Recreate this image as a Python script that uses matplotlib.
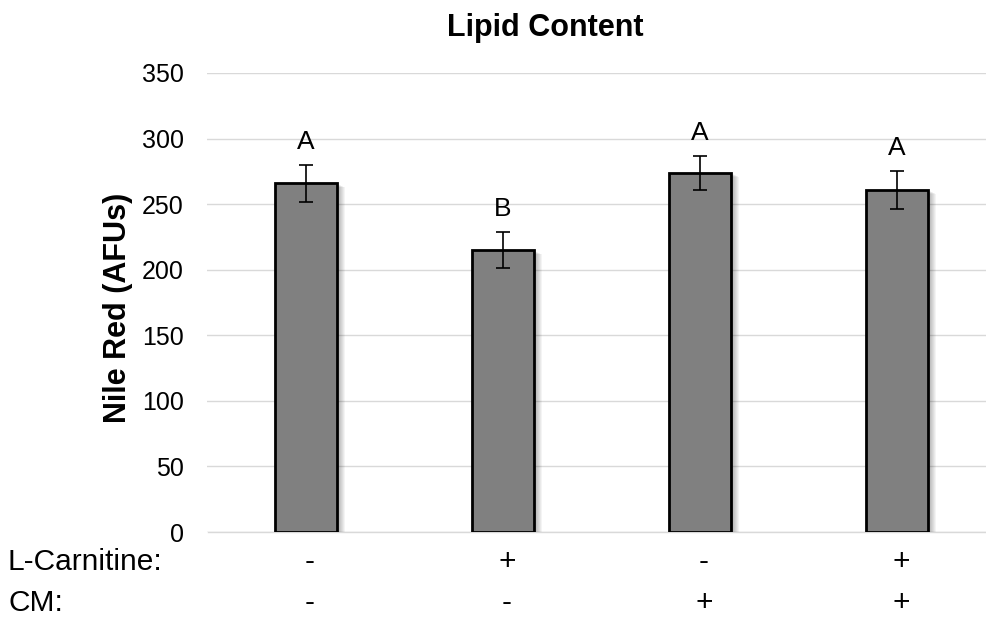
import matplotlib
matplotlib.use("Agg")
import matplotlib.pyplot as plt
import matplotlib.patheffects as pe
from matplotlib.transforms import blended_transform_factory

plt.rcParams['font.family'] = ['Liberation Sans', 'DejaVu Sans']

groups = ["1", "2", "3", "4"]
values = [266, 215, 274, 261]
errors = [14, 14, 13, 14.5]
letters = ["A", "B", "A", "A"]
carnitine = ["-", "+", "-", "+"]
cm = ["-", "-", "+", "+"]
yticks = [0, 50, 100, 150, 200, 250, 300, 350]

W, H = 987, 620
fig = plt.figure(figsize=(W / 100, H / 100), dpi=100)
left, right, bottom, top = 207.5, 987, 88, 547
ax = fig.add_axes([left / W, bottom / H, (right - left) / W, (top - bottom) / H])

x = list(range(len(groups)))
shadow = [pe.SimplePatchShadow(offset=(0.72 * i, -0.36 * i), shadow_rgbFace='black', alpha=0.045)
          for i in range(1, 9)]
bars = ax.bar(x, values, width=0.315, color='#808080', edgecolor='black', linewidth=2, zorder=3)
for b in bars:
    b.set_path_effects(shadow + [pe.Normal()])
ax.errorbar(x, values, yerr=errors, fmt='none', ecolor='black', elinewidth=1.2,
            capsize=5, capthick=1.2, zorder=4)

for xi, v, e, l in zip(x, values, errors, letters):
    ax.annotate(l, (xi, v + e), xytext=(0, 8), textcoords='offset points',
                ha='center', va='bottom', fontsize=19)

ax.set_xlim(-0.5, (right - left) / 197.0 - 0.5)
ax.set_ylim(0, 350)
ax.set_yticks(yticks)
ax.set_yticklabels([str(t) for t in yticks], fontsize=18)
ax.tick_params(axis='y', length=0, pad=17)
ax.set_xticks([])
ax.grid(axis='y', color='#d9d9d9', linewidth=1, zorder=0)
ax.set_axisbelow(True)
for s in ['left', 'right', 'top']:
    ax.spines[s].set_visible(False)
ax.spines['bottom'].set_color('#d9d9d9')
ax.spines['bottom'].set_linewidth(1)

fig.text(545 / W, 1 - 28 / H, "Lipid Content", ha='center', va='center',
         fontsize=22, fontweight='bold')
fig.text(118 / W, 1 - 308 / H, "Nile Red (AFUs)", ha='center', va='center',
         rotation=90, fontsize=22, fontweight='bold')

trans = blended_transform_factory(ax.transData, fig.transFigure)
row_y = [1 - 562 / H, 1 - 603 / H]
fig.text(8 / W, row_y[0], "L-Carnitine:", ha='left', va='center', fontsize=21.5)
fig.text(8 / W, row_y[1], "CM:", ha='left', va='center', fontsize=21.5)
for xi, a, c in zip(x, carnitine, cm):
    ax.text(xi + 0.02, row_y[0], a, transform=trans, ha='center', va='center', fontsize=21.5)
    ax.text(xi + 0.02, row_y[1], c, transform=trans, ha='center', va='center', fontsize=21.5)

fig.savefig("out.png", dpi=100)
